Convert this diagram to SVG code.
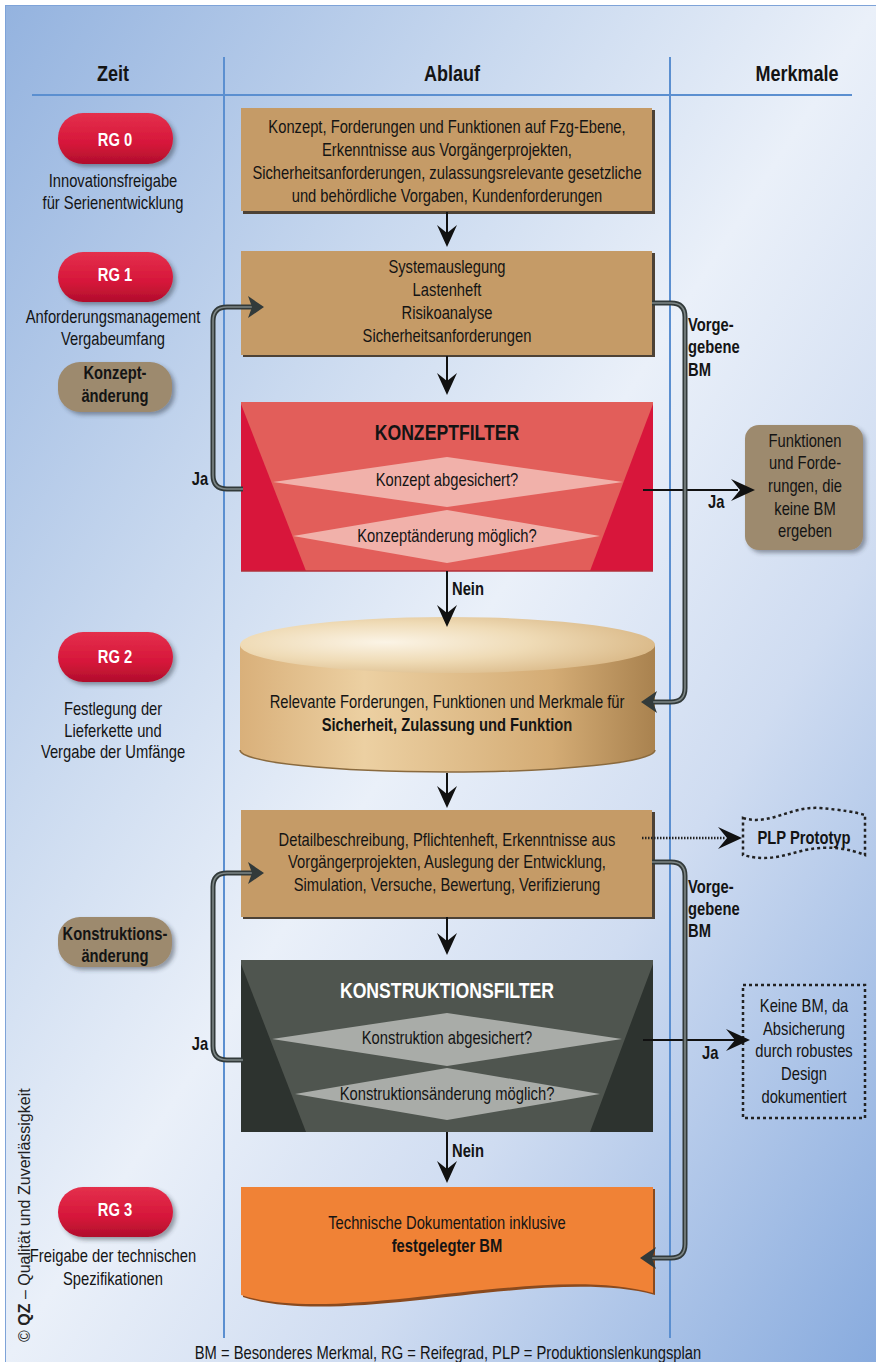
<svg xmlns="http://www.w3.org/2000/svg" width="876" height="1362" viewBox="0 0 876 1362">
<defs>
<style>
.t{font-family:"Liberation Sans","Arial",sans-serif;font-size:18px;fill:#141414;transform-box:fill-box;transform-origin:center;transform:scaleX(0.82)}
.l{transform-origin:left center}
.r{transform-origin:right center}
.b{font-weight:bold}
.c{text-anchor:middle}
.e{text-anchor:end}
.w{fill:#ffffff}
.h{font-size:22px;font-weight:bold}
.ft{font-size:21.5px;font-weight:bold}
.grid{stroke:#5b8fd0;stroke-width:2;fill:none}
.tube{fill:none;stroke:#323a3a;stroke-width:5;stroke-linejoin:round}
.tubeh{fill:none;stroke:#7d8686;stroke-width:1.6;stroke-linejoin:round}
.blk{stroke:#111;stroke-width:2;fill:none}
.dot{fill:none;stroke:#222;stroke-width:2.5;stroke-dasharray:3 3}
.tan{fill:#c59b67}
.shd{fill:#4d4236}
</style>
<linearGradient id="bg" x1="0" y1="0" x2="1" y2="1">
<stop offset="0" stop-color="#94b3df"/>
<stop offset="0.3" stop-color="#c9d9ef"/>
<stop offset="0.5" stop-color="#eaf0f9"/>
<stop offset="0.7" stop-color="#cfdcf1"/>
<stop offset="1" stop-color="#88abde"/>
</linearGradient>
<linearGradient id="red" x1="0" y1="0" x2="0" y2="1">
<stop offset="0" stop-color="#e4304c"/>
<stop offset="0.6" stop-color="#d6163a"/>
<stop offset="1" stop-color="#b00f2c"/>
</linearGradient>
<linearGradient id="cylSide" x1="0" y1="0" x2="1" y2="0">
<stop offset="0" stop-color="#d9b07a"/>
<stop offset="0.3" stop-color="#ecd0a2"/>
<stop offset="0.75" stop-color="#d4ac75"/>
<stop offset="1" stop-color="#a9824f"/>
</linearGradient>
<radialGradient id="cylTop" cx="0.35" cy="0.45" r="0.7">
<stop offset="0" stop-color="#fbf4e6"/>
<stop offset="0.5" stop-color="#efdbb6"/>
<stop offset="1" stop-color="#d8b684"/>
</radialGradient>
<filter id="ds" x="-20%" y="-20%" width="150%" height="160%">
<feDropShadow dx="3" dy="3" stdDeviation="2" flood-color="#2a3040" flood-opacity="0.45"/>
</filter>
<path id="ahd" d="M0,0 L-10,-22 L0,-14 L10,-22 Z" fill="#111"/>
<path id="ahr" d="M0,0 L-24,-11 L-15,0 L-24,11 Z" fill="#111"/>
</defs>

<!-- background -->
<rect x="0" y="0" width="876" height="1362" fill="#ffffff"/>
<rect x="5.5" y="5.5" width="871" height="1357" fill="url(#bg)" stroke="#7ea3d8" stroke-width="1"/>

<!-- grid -->
<g id="grid">
<line class="grid" x1="32" y1="95" x2="852" y2="95"/>
<line class="grid" x1="224" y1="57" x2="224" y2="1338"/>
<line class="grid" x1="670" y1="57" x2="670" y2="1338"/>
<text class="t h c" x="113" y="81">Zeit</text>
<text class="t h c" x="452" y="81">Ablauf</text>
<text class="t h c" x="797" y="81">Merkmale</text>
</g>

<!-- Zeit column -->
<g id="rg0">
<rect x="58" y="113" width="115" height="51" rx="25" fill="url(#red)" filter="url(#ds)"/>
<text class="t b c w" x="115" y="146">RG 0</text>
<text class="t c" x="113" y="187">Innovationsfreigabe</text>
<text class="t c" x="113" y="209">für Serienentwicklung</text>
</g>
<g id="rg1">
<rect x="58" y="252" width="115" height="50" rx="25" fill="url(#red)" filter="url(#ds)"/>
<text class="t b c w" x="115" y="281">RG 1</text>
<text class="t c" x="113" y="323">Anforderungsmanagement</text>
<text class="t c" x="113" y="345">Vergabeumfang</text>
</g>
<g id="konzeptaenderung">
<rect x="58" y="362" width="114" height="50" rx="22" fill="#9d8a6e" filter="url(#ds)"/>
<text class="t b c" x="115" y="379">Konzept-</text>
<text class="t b c" x="115" y="402">änderung</text>
</g>
<g id="rg2">
<rect x="58" y="632" width="115" height="50" rx="25" fill="url(#red)" filter="url(#ds)"/>
<text class="t b c w" x="115" y="663">RG 2</text>
<text class="t c" x="113" y="715">Festlegung der</text>
<text class="t c" x="113" y="737">Lieferkette und</text>
<text class="t c" x="113" y="758">Vergabe der Umfänge</text>
</g>
<g id="konstruktionsaenderung">
<rect x="58" y="917" width="114" height="50" rx="22" fill="#9d8a6e" filter="url(#ds)"/>
<text class="t b c" x="115" y="940">Konstruktions-</text>
<text class="t b c" x="115" y="962">änderung</text>
</g>
<g id="rg3">
<rect x="58" y="1187" width="115" height="50" rx="25" fill="url(#red)" filter="url(#ds)"/>
<text class="t b c w" x="115" y="1216">RG 3</text>
<text class="t c" x="113" y="1262">Freigabe der technischen</text>
<text class="t c" x="113" y="1285">Spezifikationen</text>
</g>

<!-- Ablauf column -->
<g id="box1">
<rect class="shd" x="243" y="110" width="412" height="104"/>
<rect class="tan" x="241" y="108" width="411" height="103"/>
<text class="t c" x="447" y="133">Konzept, Forderungen und Funktionen auf Fzg-Ebene,</text>
<text class="t c" x="447" y="156">Erkenntnisse aus Vorgängerprojekten,</text>
<text class="t c" x="447" y="179">Sicherheitsanforderungen, zulassungsrelevante gesetzliche</text>
<text class="t c" x="447" y="202">und behördliche Vorgaben, Kundenforderungen</text>
</g>
<g id="box2">
<rect class="shd" x="243" y="253" width="412" height="104"/>
<rect class="tan" x="241" y="251" width="411" height="104"/>
<text class="t c" x="447" y="273">Systemauslegung</text>
<text class="t c" x="447" y="296">Lastenheft</text>
<text class="t c" x="447" y="319">Risikoanalyse</text>
<text class="t c" x="447" y="342">Sicherheitsanforderungen</text>
</g>
<g id="konzeptfilter">
<rect x="241" y="402" width="412" height="169" fill="#e25e5a"/>
<polygon points="241,404 306,571 241,571" fill="#d8163b"/>
<polygon points="653,404 590,571 653,571" fill="#d8163b"/>
<polygon points="273,482 447,457 623,482 447,507" fill="#f1b1aa"/>
<polygon points="293,536 447,510 600,536 447,563" fill="#f1b1aa"/>
<line x1="241" y1="571" x2="653" y2="571" stroke="#b0303a" stroke-width="1.5"/>
<text class="t ft c" x="447" y="440">KONZEPTFILTER</text>
<text class="t c" x="447" y="486">Konzept abgesichert?</text>
<text class="t c" x="447" y="542">Konzeptänderung möglich?</text>
</g>
<g id="datenbank">
<path d="M240,645 V750 A207,22 0 0 0 655,750 V645 Z" fill="url(#cylSide)"/>
<path d="M240,750 A207,22 0 0 0 655,750" fill="none" stroke="#8a6a3e" stroke-width="1.5"/>
<ellipse cx="447.5" cy="645" rx="207.5" ry="28" fill="url(#cylTop)"/>
<text class="t c" x="447" y="708">Relevante Forderungen, Funktionen und Merkmale für</text>
<text class="t b c" x="447" y="731">Sicherheit, Zulassung und Funktion</text>
</g>
<g id="box4">
<rect class="shd" x="243" y="812" width="412" height="107"/>
<rect class="tan" x="241" y="810" width="411" height="107"/>
<text class="t c" x="447" y="846">Detailbeschreibung, Pflichtenheft, Erkenntnisse aus</text>
<text class="t c" x="447" y="868">Vorgängerprojekten, Auslegung der Entwicklung,</text>
<text class="t c" x="447" y="891">Simulation, Versuche, Bewertung, Verifizierung</text>
</g>
<g id="konstruktionsfilter">
<rect x="241" y="960" width="412" height="172" fill="#4f554f"/>
<polygon points="241,964 306,1132 241,1132" fill="#2d332f"/>
<polygon points="653,964 590,1132 653,1132" fill="#2d332f"/>
<polygon points="272,1039 447,1013 622,1039 447,1066" fill="#a9aca8"/>
<polygon points="295,1094 447,1068 600,1094 447,1120" fill="#a9aca8"/>
<text class="t ft c w" x="447" y="998">KONSTRUKTIONSFILTER</text>
<text class="t c" x="447" y="1044">Konstruktion abgesichert?</text>
<text class="t c" x="447" y="1100">Konstruktionsänderung möglich?</text>
</g>
<g id="dokumentation">
<path d="M243,1189 H655 V1295 C545,1265 345,1330 243,1297 Z" fill="#8a4a1e"/>
<path d="M241,1187 H653 V1293 C540,1262 340,1327 241,1295 Z" fill="#f08236"/>
<text class="t c" x="447" y="1229">Technische Dokumentation inklusive</text>
<text class="t b c" x="447" y="1252">festgelegter BM</text>
</g>

<!-- Merkmale column -->
<g id="keinebm1">
<rect x="745" y="425" width="118" height="125" rx="14" fill="#9d8a6e" filter="url(#ds)"/>
<text class="t c" x="805" y="447">Funktionen</text>
<text class="t c" x="805" y="469">und Forde-</text>
<text class="t c" x="805" y="492">rungen, die</text>
<text class="t c" x="805" y="515">keine BM</text>
<text class="t c" x="805" y="537">ergeben</text>
</g>
<g id="plp">
<path class="dot" d="M743,818 C770,826 790,806 820,808 C842,810 855,812 865,815 V855 C850,849 830,845 805,850 C785,855 768,862 743,855 Z"/>
<text class="t b c" x="804" y="844">PLP Prototyp</text>
</g>
<g id="keinebm2">
<rect class="dot" x="743" y="985" width="122" height="133"/>
<text class="t c" x="804" y="1012">Keine BM, da</text>
<text class="t c" x="804" y="1035">Absicherung</text>
<text class="t c" x="804" y="1057">durch robustes</text>
<text class="t c" x="804" y="1080">Design</text>
<text class="t c" x="804" y="1103">dokumentiert</text>
</g>

<!-- connectors -->
<g id="connectors">
<line class="blk" x1="447" y1="212" x2="447" y2="236"/>
<use href="#ahd" x="447" y="247"/>
<line class="blk" x1="447" y1="356" x2="447" y2="384"/>
<use href="#ahd" x="447" y="395"/>
<line class="blk" x1="447" y1="571" x2="447" y2="615"/>
<use href="#ahd" x="447" y="627"/>
<text class="t b l" x="452" y="595">Nein</text>
<line class="blk" x1="447" y1="773" x2="447" y2="797"/>
<use href="#ahd" x="447" y="808"/>
<line class="blk" x1="447" y1="917" x2="447" y2="944"/>
<use href="#ahd" x="447" y="955"/>
<line class="blk" x1="447" y1="1132" x2="447" y2="1172"/>
<use href="#ahd" x="447" y="1183"/>
<text class="t b l" x="452" y="1157">Nein</text>

<line class="blk" x1="643" y1="490" x2="738" y2="490"/>
<use href="#ahr" x="755" y="490"/>
<text class="t b l" x="708" y="508">Ja</text>
<line class="blk" x1="643" y1="1040" x2="735" y2="1040"/>
<use href="#ahr" x="750" y="1040"/>
<text class="t b l" x="702" y="1059">Ja</text>
<line x1="642" y1="838" x2="726" y2="838" stroke="#222" stroke-width="2.5" stroke-dasharray="1.5 1.5"/>
<use href="#ahr" x="742" y="838"/>

<path class="tube" d="M243,489 H227 Q213,489 213,475 V321 Q213,307 227,307 H256"/>
<path class="tubeh" d="M243,489 H227 Q213,489 213,475 V321 Q213,307 227,307 H256"/>
<path d="M264,307 L248,296 L252,307 L248,318 Z" fill="#323a3a"/>
<text class="t b e r" x="208" y="485">Ja</text>

<path class="tube" d="M652,303 H671 Q685,303 685,317 V688 Q685,702 671,702 H650"/>
<path class="tubeh" d="M652,303 H671 Q685,303 685,317 V688 Q685,702 671,702 H650"/>
<path d="M641,702 L657,691 L653,702 L657,713 Z" fill="#323a3a"/>
<text class="t b l" x="688" y="331">Vorge-</text>
<text class="t b l" x="688" y="353">gebene</text>
<text class="t b l" x="688" y="376">BM</text>

<path class="tube" d="M243,1060 H227 Q213,1060 213,1046 V887 Q213,873 227,873 H256"/>
<path class="tubeh" d="M243,1060 H227 Q213,1060 213,1046 V887 Q213,873 227,873 H256"/>
<path d="M264,873 L248,862 L252,873 L248,884 Z" fill="#323a3a"/>
<text class="t b e r" x="208" y="1050">Ja</text>

<path class="tube" d="M652,862 H671 Q685,862 685,876 V1244 Q685,1258 671,1258 H650"/>
<path class="tubeh" d="M652,862 H671 Q685,862 685,876 V1244 Q685,1258 671,1258 H650"/>
<path d="M640,1258 L656,1247 L652,1258 L656,1269 Z" fill="#323a3a"/>
<text class="t b l" x="688" y="893">Vorge-</text>
<text class="t b l" x="688" y="915">gebene</text>
<text class="t b l" x="688" y="937">BM</text>
</g>

<!-- footer -->
<g id="footer">
<text class="t c" x="448" y="1359">BM = Besonderes Merkmal, RG = Reifegrad, PLP = Produktionslenkungsplan</text>
<text transform="translate(29.5,1342) rotate(-90)" font-family="Liberation Sans,Arial,sans-serif" font-size="16" fill="#222">© <tspan font-weight="bold">QZ</tspan> – Qualität und Zuverlässigkeit</text>
</g>
</svg>
